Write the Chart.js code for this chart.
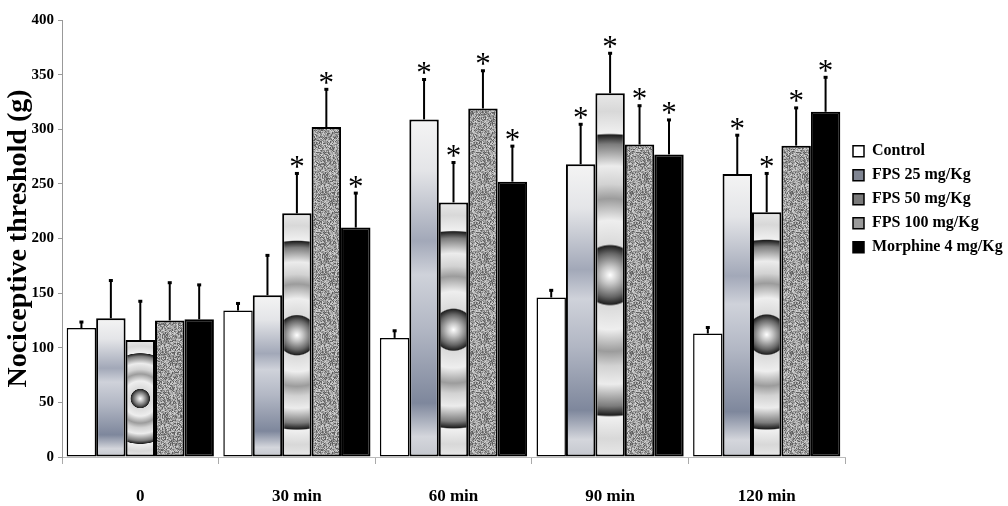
<!DOCTYPE html>
<html>
<head>
<meta charset="utf-8">
<script src="https://cdn.jsdelivr.net/npm/chart.js@4/dist/chart.umd.min.js"></script>
<style>
  body { margin: 0; background: #fff; }
  #wrap { width: 1008px; height: 506px; position: relative; }
</style>
</head>
<body>
<div id="wrap"><canvas id="grafico"></canvas></div>
<script>
// dados (g)
const tempos = ['0', '30 min', '60 min', '90 min', '120 min'];
const grupos = ['Control', 'FPS 25 mg/Kg', 'FPS 50 mg/Kg', 'FPS 100 mg/Kg', 'Morphine 4 mg/Kg'];

const controle = [118, 134, 109, 146, 113];
const controleErr = [6, 7, 7, 7, 6];
const fps25 = [127, 148, 309, 268, 259];
const fps25Err = [35, 37, 37, 37, 36];
const fps50 = [107, 223, 233, 333, 224];
const fps50Err = [36, 37, 37, 37, 36];
const fps100 = [125, 302, 319, 286, 285];
const fps100Err = [35, 35, 35, 36, 35];
const morfina = [126, 210, 252, 277, 316];
const morfinaErr = [32, 32, 33, 32, 32];

// asterisco = diferença significativa
const sigControle = [0, 0, 0, 0, 0];
const sigFps25 = [0, 0, 1, 1, 1];
const sigFps50 = [0, 1, 1, 1, 1];
const sigFps100 = [0, 1, 1, 1, 1];
const sigMorfina = [0, 1, 1, 1, 1];

// cores das caixinhas da legenda
const coresLegenda = ['#ffffff', '#808592', '#7a7a7a', '#9a9a9a', '#000000'];

const CAT_PCT = 0.94;
const FONTE = '"Liberation Serif", "Times New Roman", serif';

// textura granulada (FPS 100)
function texturaGranulada() {
  const c = document.createElement('canvas');
  c.width = 80; c.height = 80;
  const g = c.getContext('2d');
  const img = g.createImageData(80, 80);
  let s = 12345;
  const rnd = () => { s = (s * 1103515245 + 12345) & 0x7fffffff; return s / 0x7fffffff; };
  for (let i = 0; i < 80 * 80; i++) {
    const r = rnd();
    let v = 215 - r * 120;
    if (r > 0.85) v = 95;
    img.data[i * 4] = v; img.data[i * 4 + 1] = v; img.data[i * 4 + 2] = v; img.data[i * 4 + 3] = 255;
  }
  g.putImageData(img, 0, 0);
  return g.createPattern(c, 'repeat');
}
let padraoGranulado = null;

// gradiente metálico vertical (FPS 25)
function metalico(c) {
  const chart = c.chart;
  if (c.type !== 'data' || !chart.chartArea) return '#9ea3b0';
  const y = chart.scales.y;
  const topo = y.getPixelForValue(c.raw);
  const base = y.getPixelForValue(0);
  const g = chart.ctx.createLinearGradient(0, topo, 0, base);
  g.addColorStop(0, '#f4f4f4');
  g.addColorStop(0.15, '#e4e5e8');
  g.addColorStop(0.36, '#a2a8b8');
  g.addColorStop(0.46, '#cfd2da');
  g.addColorStop(0.62, '#b2b7c4');
  g.addColorStop(0.84, '#7e879c');
  g.addColorStop(0.94, '#d4d6dc');
  g.addColorStop(1, '#c4c7ce');
  return g;
}

// círculos concêntricos (FPS 50)
function circulos(c) {
  const chart = c.chart;
  if (c.type !== 'data' || !chart.chartArea) return '#8c8c8c';
  const y = chart.scales.y, x = chart.scales.x;
  const topo = y.getPixelForValue(c.raw);
  const base = y.getPixelForValue(0);
  const larg = (x.width / tempos.length) * CAT_PCT;
  const cx = x.getPixelForValue(c.dataIndex) - larg / 2 + (c.datasetIndex + 0.5) * larg / grupos.length;
  const cy = (topo + base) / 2;
  const r = Math.max((base - topo) / 2, 1);
  const g = chart.ctx.createRadialGradient(cx, cy, 0, cx, cy, r);
  g.addColorStop(0, '#ffffff');
  g.addColorStop(0.05, '#c4c4c4');
  g.addColorStop(0.12, '#666666');
  g.addColorStop(0.16, '#222222');
  g.addColorStop(0.17, '#dadada');
  g.addColorStop(0.3, '#eeeeee');
  g.addColorStop(0.42, '#9c9c9c');
  g.addColorStop(0.5, '#d2d2d2');
  g.addColorStop(0.6, '#ececec');
  g.addColorStop(0.72, '#7c7c7c');
  g.addColorStop(0.77, '#1e1e1e');
  g.addColorStop(0.78, '#f0f0f0');
  g.addColorStop(0.9, '#d8d8d8');
  g.addColorStop(1, '#e8e8e8');
  return g;
}

function granulado(c) {
  if (c.type !== 'data') return '#a4a4a4';
  if (!padraoGranulado) padraoGranulado = texturaGranulada();
  return padraoGranulado;
}

// barras de erro e asteriscos
const errosPlugin = {
  id: 'erros',
  afterDatasetsDraw(chart) {
    const ctx = chart.ctx;
    const y = chart.scales.y;
    chart.data.datasets.forEach((ds, di) => {
      const meta = chart.getDatasetMeta(di);
      meta.data.forEach((barra, i) => {
        const topo = y.getPixelForValue(ds.data[i] + ds.erro[i]);
        ctx.save();
        ctx.strokeStyle = '#000';
        ctx.fillStyle = '#000';
        ctx.lineWidth = 2;
        ctx.beginPath();
        ctx.moveTo(barra.x, barra.y);
        ctx.lineTo(barra.x, topo);
        ctx.stroke();
        ctx.fillRect(barra.x - 2, topo - 1, 4, 3);
        if (ds.sig[i]) {
          ctx.font = '31px ' + FONTE;
          ctx.textAlign = 'center';
          ctx.textBaseline = 'alphabetic';
          const m = ctx.measureText('*');
          const centro = topo - 11;
          const linhaBase = centro - (m.actualBoundingBoxDescent - m.actualBoundingBoxAscent) / 2;
          ctx.fillText('*', barra.x, linhaBase);
        }
        ctx.restore();
      });
    });
  }
};

const dados = [
  { label: grupos[0], data: controle, erro: controleErr, sig: sigControle, backgroundColor: '#ffffff', borderWidth: 1.5 },
  { label: grupos[1], data: fps25, erro: fps25Err, sig: sigFps25, backgroundColor: metalico, borderWidth: 2 },
  { label: grupos[2], data: fps50, erro: fps50Err, sig: sigFps50, backgroundColor: circulos, borderWidth: 2 },
  { label: grupos[3], data: fps100, erro: fps100Err, sig: sigFps100, backgroundColor: granulado, borderWidth: 2 },
  { label: grupos[4], data: morfina, erro: morfinaErr, sig: sigMorfina, backgroundColor: '#000000', borderWidth: 2 }
].map(d => Object.assign(d, { borderColor: '#000', borderSkipped: false }));

new Chart(document.getElementById('grafico'), {
  type: 'bar',
  data: { labels: tempos, datasets: dados },
  options: {
    responsive: true,
    maintainAspectRatio: false,
    animation: false,
    categoryPercentage: CAT_PCT,
    barPercentage: 1,
    layout: { padding: { top: 20, left: 0, right: 0, bottom: 0 } },
    plugins: {
      tooltip: { enabled: false },
      legend: {
        position: 'right',
        align: 'start',
        maxWidth: 163,
        title: { display: true, text: '', font: { size: 1 }, padding: { top: 114, bottom: 0 } },
        labels: {
          boxWidth: 11,
          boxHeight: 11,
          padding: 8,
          color: '#000',
          font: { family: FONTE, size: 16, weight: 'bold' },
          generateLabels: chart => Chart.defaults.plugins.legend.labels.generateLabels(chart)
            .map((item, i) => Object.assign(item, { fillStyle: coresLegenda[i], strokeStyle: '#000', lineWidth: 1.5 }))
        }
      }
    },
    scales: {
      x: {
        grid: { display: true, drawOnChartArea: false, drawTicks: true, tickLength: 7, color: '#aaa', offset: true },
        border: { display: true, color: '#bbb' },
        ticks: { color: '#000', padding: 22, font: { family: FONTE, size: 17, weight: 'bold' } },
        afterFit: s => { s.height = 49; }
      },
      y: {
        min: 0,
        max: 400,
        ticks: { stepSize: 50, color: '#000', padding: 4, font: { family: FONTE, size: 15, weight: 'bold' } },
        grid: { drawOnChartArea: false, drawTicks: true, tickLength: 4, color: '#999' },
        border: { display: true, color: '#999' },
        title: {
          display: true,
          text: 'Nociceptive threshold (g)',
          color: '#000',
          padding: { top: 2, bottom: 0 },
          font: { family: FONTE, size: 28, weight: 'bold' }
        },
        afterFit: s => { s.width = 62; }
      }
    }
  },
  plugins: [errosPlugin]
});
</script>
</body>
</html>
